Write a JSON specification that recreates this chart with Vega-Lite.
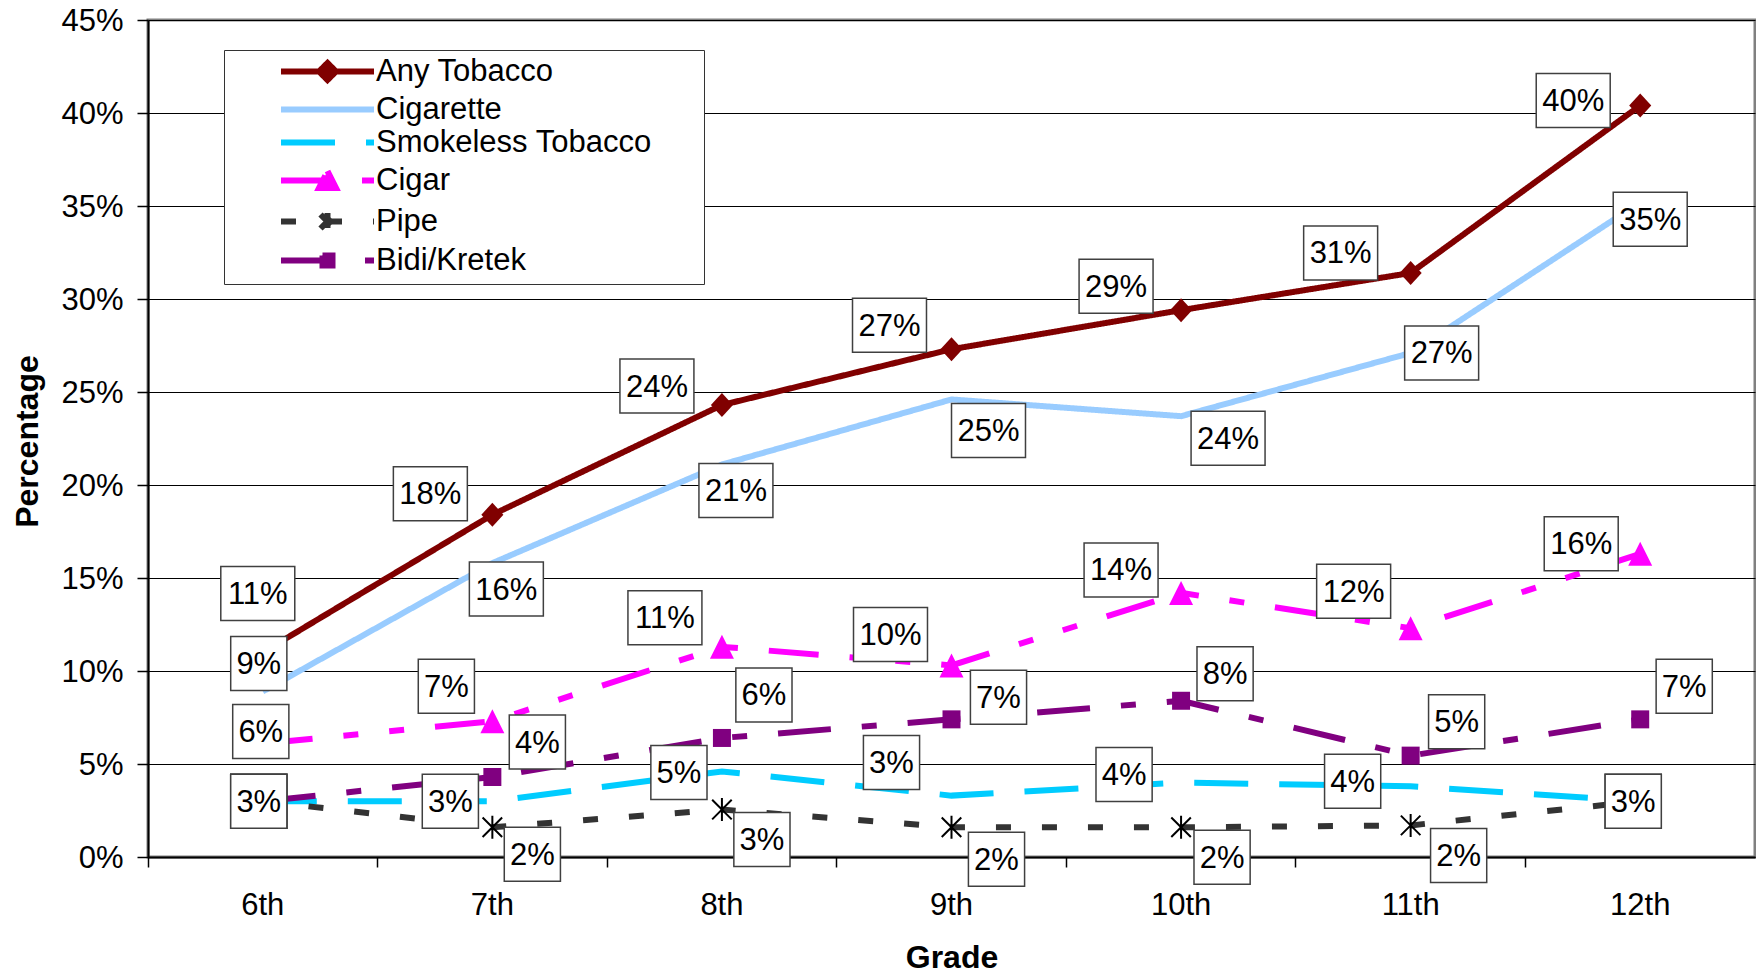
{
  "$schema": "https://vega.github.io/schema/vega-lite/v6.json",
  "width": 1607,
  "height": 837,
  "autosize": {"type": "none"},
  "padding": {"left": 148, "top": 20, "right": 1, "bottom": 117},
  "background": "white",
  "config": {
    "font": "Liberation Sans",
    "view": {"stroke": "#808080", "strokeWidth": 3},
    "legend": {"symbolOpacity": 1},
    "axis": {"labelColor": "black", "titleColor": "black", "labelFont": "Liberation Sans", "titleFont": "Liberation Sans"}
  },
  "params": [
    {"name": "lab", "value": {
      "Any Tobacco": {"6th": [-5, -59], "7th": [-62, -21], "8th": [-65, -19], "9th": [-62, -24], "10th": [-65, -24], "11th": [-70, -20], "12th": [-67, -5]},
      "Cigarette": {"6th": [-4, -28], "7th": [14, 26], "8th": [14, 26], "9th": [37, 31], "10th": [47, 22], "11th": [31, 0], "12th": [10, 17]},
      "Smokeless Tobacco": {"6th": [-4, 0], "7th": [-42, 0], "8th": [-43, 1], "9th": [-60, -33], "10th": [-57, -8], "11th": [-58, -5], "12th": [-7, 0]},
      "Cigar": {"6th": [-2, -12], "7th": [-46, -35], "8th": [-57, -29], "9th": [-61, -31], "10th": [-60, -23], "11th": [-57, -37], "12th": [-59, -10]},
      "Pipe": {"6th": [-4, 0], "7th": [40, 27], "8th": [40, 30], "9th": [45, 32], "10th": [41, 30], "11th": [48, 30], "12th": [-7, 0]},
      "Bidi/Kretek": {"6th": [-4, 0], "7th": [45, -35], "8th": [42, -43], "9th": [47, -22], "10th": [44, -27], "11th": [46, -34], "12th": [44, -33]}
    }}
  ],
  "data": {"values": [
    {"grade": "6th", "series": "Any Tobacco", "value": 0.110},
    {"grade": "7th", "series": "Any Tobacco", "value": 0.184},
    {"grade": "8th", "series": "Any Tobacco", "value": 0.243},
    {"grade": "9th", "series": "Any Tobacco", "value": 0.273},
    {"grade": "10th", "series": "Any Tobacco", "value": 0.294},
    {"grade": "11th", "series": "Any Tobacco", "value": 0.314},
    {"grade": "12th", "series": "Any Tobacco", "value": 0.404},
    {"grade": "6th", "series": "Cigarette", "value": 0.089},
    {"grade": "7th", "series": "Cigarette", "value": 0.158},
    {"grade": "8th", "series": "Cigarette", "value": 0.211},
    {"grade": "9th", "series": "Cigarette", "value": 0.246},
    {"grade": "10th", "series": "Cigarette", "value": 0.237},
    {"grade": "11th", "series": "Cigarette", "value": 0.271},
    {"grade": "12th", "series": "Cigarette", "value": 0.352},
    {"grade": "6th", "series": "Smokeless Tobacco", "value": 0.030},
    {"grade": "7th", "series": "Smokeless Tobacco", "value": 0.030},
    {"grade": "8th", "series": "Smokeless Tobacco", "value": 0.046},
    {"grade": "9th", "series": "Smokeless Tobacco", "value": 0.033},
    {"grade": "10th", "series": "Smokeless Tobacco", "value": 0.040},
    {"grade": "11th", "series": "Smokeless Tobacco", "value": 0.038},
    {"grade": "12th", "series": "Smokeless Tobacco", "value": 0.030},
    {"grade": "6th", "series": "Cigar", "value": 0.061},
    {"grade": "7th", "series": "Cigar", "value": 0.073},
    {"grade": "8th", "series": "Cigar", "value": 0.113},
    {"grade": "9th", "series": "Cigar", "value": 0.103},
    {"grade": "10th", "series": "Cigar", "value": 0.142},
    {"grade": "11th", "series": "Cigar", "value": 0.123},
    {"grade": "12th", "series": "Cigar", "value": 0.163},
    {"grade": "6th", "series": "Pipe", "value": 0.030},
    {"grade": "7th", "series": "Pipe", "value": 0.016},
    {"grade": "8th", "series": "Pipe", "value": 0.0255},
    {"grade": "9th", "series": "Pipe", "value": 0.016},
    {"grade": "10th", "series": "Pipe", "value": 0.016},
    {"grade": "11th", "series": "Pipe", "value": 0.017},
    {"grade": "12th", "series": "Pipe", "value": 0.030},
    {"grade": "6th", "series": "Bidi/Kretek", "value": 0.030},
    {"grade": "7th", "series": "Bidi/Kretek", "value": 0.043},
    {"grade": "8th", "series": "Bidi/Kretek", "value": 0.064},
    {"grade": "9th", "series": "Bidi/Kretek", "value": 0.074},
    {"grade": "10th", "series": "Bidi/Kretek", "value": 0.084},
    {"grade": "11th", "series": "Bidi/Kretek", "value": 0.0545},
    {"grade": "12th", "series": "Bidi/Kretek", "value": 0.074}
  ]},
  "encoding": {
    "x": {
      "field": "grade", "type": "ordinal",
      "sort": ["6th", "7th", "8th", "9th", "10th", "11th", "12th"],
      "bandPosition": 0.5,
      "scale": {"type": "band", "paddingInner": 0, "paddingOuter": 0},
      "axis": {
        "title": "Grade", "labelAngle": 0, "bandPosition": 0, "grid": false,
        "tickSize": 10, "tickColor": "black", "tickWidth": 1.5,
        "domainColor": "black", "domainWidth": 2,
        "labelFontSize": 31, "labelPadding": 23,
        "titleFontSize": 32, "titleFontWeight": "bold",
        "titleX": 803.5, "titleY": 110, "titleAlign": "center", "titleBaseline": "alphabetic"
      }
    },
    "y": {
      "field": "value", "type": "quantitative",
      "scale": {"domain": [0, 0.45], "nice": false, "zero": true},
      "axis": {
        "title": "Percentage",
        "values": [0, 0.05, 0.1, 0.15, 0.2, 0.25, 0.3, 0.35, 0.4, 0.45],
        "format": ".0%",
        "grid": true, "gridColor": "black", "gridWidth": 1,
        "tickSize": 11, "tickColor": "black", "tickWidth": 1.5,
        "domainColor": "black", "domainWidth": 2,
        "labelFontSize": 31, "labelPadding": 14, "labelOffset": 1.5,
        "titleFontSize": 32, "titleFontWeight": "bold",
        "titleX": -111, "titleY": 421, "titleAngle": -90, "titleAlign": "center", "titleBaseline": "alphabetic"
      }
    }
  },
  "layer": [
    {
      "mark": {"type": "point", "filled": true, "opacity": 0, "size": 400, "strokeWidth": 6},
      "encoding": {
        "fill": {
          "field": "series", "type": "nominal",
          "scale": {
            "domain": ["Any Tobacco", "Cigarette", "Smokeless Tobacco", "Cigar", "Pipe", "Bidi/Kretek"],
            "range": ["#800000", "#99CCFF", "#00CCFF", "#FF00FF", "#333333", "#800080"]
          },
          "legend": {
            "orient": "none", "legendX": 76, "legendY": 30, "title": null, "direction": "vertical",
            "labelFontSize": 31, "labelColor": "black", "labelLimit": 0,
            "symbolSize": 400, "symbolStrokeWidth": 6, "symbolOpacity": 1,
            "symbolOffset": 82, "labelOffset": 33,
            "rowPadding": 1, "padding": 6, "strokeColor": "#333333", "fillColor": "white"
          }
        },
        "stroke": {
          "field": "series", "type": "nominal",
          "scale": {
            "domain": ["Any Tobacco", "Cigarette", "Smokeless Tobacco", "Cigar", "Pipe", "Bidi/Kretek"],
            "range": ["#800000", "#99CCFF", "#00CCFF", "#FF00FF", "#333333", "#800080"]
          }
        },
        "strokeDash": {
          "field": "series", "type": "nominal",
          "scale": {
            "domain": ["Any Tobacco", "Cigarette", "Smokeless Tobacco", "Cigar", "Pipe", "Bidi/Kretek"],
            "range": [[1, 0], [1, 0], [54, 31], [50, 31, 15, 31, 15, 31], [15, 31], [53, 31, 15, 31]]
          }
        },
        "shape": {
          "field": "series", "type": "nominal",
          "scale": {
            "domain": ["Any Tobacco", "Cigarette", "Smokeless Tobacco", "Cigar", "Pipe", "Bidi/Kretek"],
            "range": [
              "M-4.65,0H4.65M0,-0.85L0.85,0L0,0.85L-0.85,0Z",
              "M-4.65,0H4.65M35.8,0",
              "M-4.65,0H4.65",
              "M-4.65,0H4.65M0,-0.95L0.85,0.75L-0.85,0.75Z",
              "M-4.65,0H4.65M0,-0.85V0.85M-0.7,-0.7L0.7,0.7M-0.7,0.7L0.7,-0.7",
              "M-4.65,0H4.65M-0.5,-0.5H0.5V0.5H-0.5Z"
            ]
          }
        }
      }
    },
    {
      "mark": {"type": "line", "strokeWidth": 6},
      "encoding": {
        "stroke": {"field": "series", "type": "nominal"},
        "strokeDash": {"field": "series", "type": "nominal"}
      }
    },
    {
      "transform": [{"filter": "datum.series == 'Any Tobacco'"}],
      "mark": {"type": "point", "filled": true, "opacity": 1, "size": 576, "fill": "#800000", "strokeWidth": 0, "shape": "M0,-1L0.92,0L0,1L-0.92,0Z"},
      "encoding": {}
    },
    {
      "transform": [{"filter": "datum.series == 'Cigar'"}],
      "mark": {"type": "point", "filled": true, "opacity": 1, "size": 576, "fill": "#FF00FF", "strokeWidth": 0, "shape": "M0,-1L1,1L-1,1Z"},
      "encoding": {}
    },
    {
      "transform": [{"filter": "datum.series == 'Bidi/Kretek'"}],
      "mark": {"type": "point", "filled": true, "opacity": 1, "size": 324, "fill": "#800080", "strokeWidth": 0, "shape": "square"},
      "encoding": {}
    },
    {
      "transform": [{"filter": "datum.series == 'Pipe'"}],
      "mark": {"type": "point", "filled": false, "opacity": 1, "size": 529, "shape": "M0,-1V1M-0.85,-0.85L0.85,0.85M-0.85,0.85L0.85,-0.85", "stroke": "black", "strokeWidth": 2},
      "encoding": {}
    },
    {
      "mark": {
        "type": "point", "filled": true, "opacity": 1, "size": 2916,
        "fill": "white", "stroke": "#404040", "strokeWidth": 1.5,
        "shape": {"expr": "'M' + (lab[datum.series][datum.grade][0] / 27 - (datum.value >= 0.095 ? 1.37 : 1.04)) + ',' + (lab[datum.series][datum.grade][1] / 27 - 1) + 'H' + (lab[datum.series][datum.grade][0] / 27 + (datum.value >= 0.095 ? 1.37 : 1.04)) + 'V' + (lab[datum.series][datum.grade][1] / 27 + 1) + 'H' + (lab[datum.series][datum.grade][0] / 27 - (datum.value >= 0.095 ? 1.37 : 1.04)) + 'Z'"}
      },
      "encoding": {}
    },
    {
      "transform": [{"filter": "!((datum.grade == '6th' && (datum.series == 'Pipe' || datum.series == 'Bidi/Kretek')) || (datum.grade == '12th' && datum.series == 'Pipe'))"}],
      "mark": {
        "type": "text", "fontSize": 31, "align": "center", "baseline": "middle", "color": "black",
        "dx": {"expr": "lab[datum.series][datum.grade][0]"},
        "dy": {"expr": "lab[datum.series][datum.grade][1] + 1.5"}
      },
      "encoding": {
        "text": {"field": "value", "type": "quantitative", "format": ".0%"}
      }
    }
  ]
}
